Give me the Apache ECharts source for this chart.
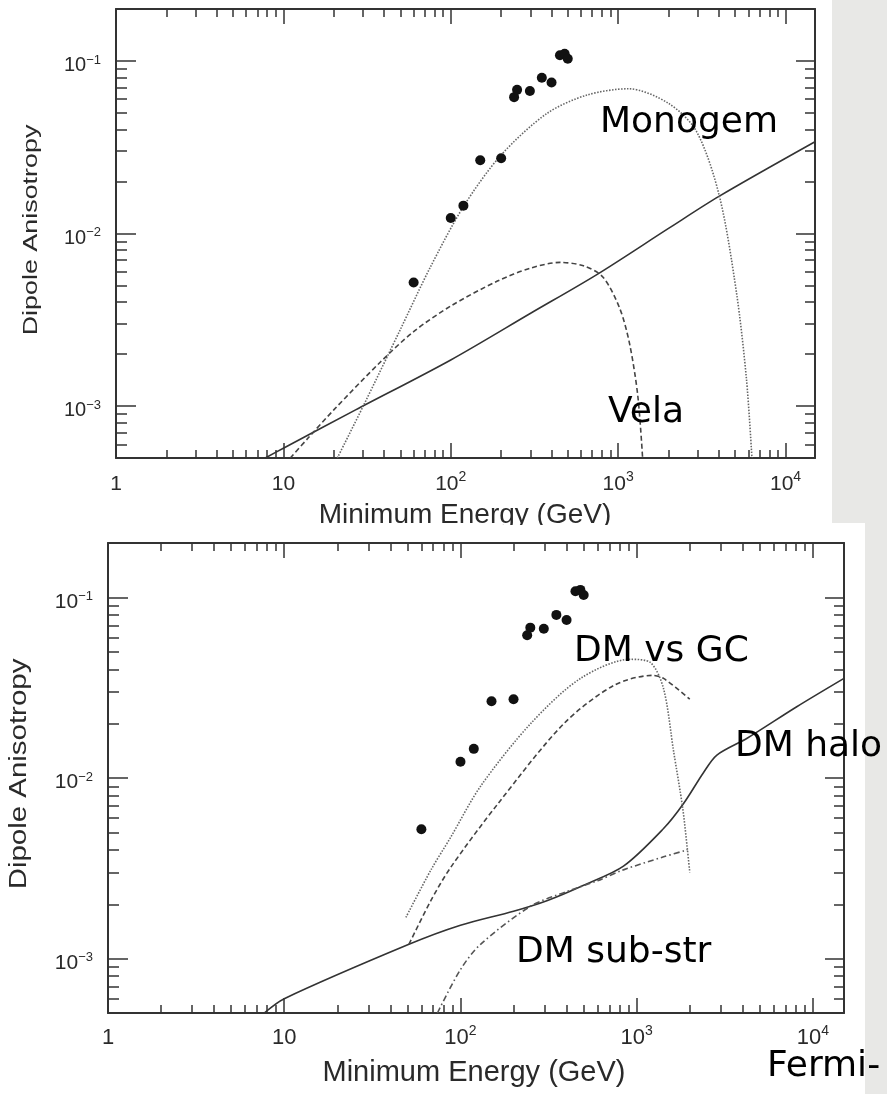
<!DOCTYPE html>
<html>
<head>
<meta charset="utf-8">
<title>Dipole anisotropy vs minimum energy</title>
<script src="https://cdn.jsdelivr.net/npm/echarts@6/dist/echarts.min.js"></script>
<style>
  html, body { margin: 0; padding: 0; background: #fff; }
  #chart { width: 887px; height: 1094px; }
</style>
</head>
<body>
<div id="chart"></div>
<script>
// measured dipole anisotropy (same points in both panels)
const dataEnergy = [60, 100, 119, 150, 200, 239, 249, 297, 350, 400, 449, 479, 500];
const dataAniso = [0.0052, 0.0123, 0.0145, 0.0266, 0.0273, 0.0617, 0.068, 0.067, 0.080, 0.075, 0.108, 0.110, 0.103];

// upper panel: pulsars
const bgEnergy = [7.8, 10, 27, 100, 300, 750, 2000, 4000, 15000];
const bgAniso = [0.0005, 0.00057, 0.00095, 0.00185, 0.00345, 0.0058, 0.0107, 0.0164, 0.034];
const monogemEnergy = [21, 30, 50, 75, 120, 200, 375, 650, 1150, 2000, 2940, 4030, 5090, 5840, 6300];
const monogemAniso = [0.0005, 0.001, 0.00278, 0.0063, 0.0145, 0.0285, 0.0496, 0.0634, 0.069, 0.0568, 0.039, 0.0164, 0.00456, 0.00144, 0.0005];
const velaEnergy = [11, 14, 20, 38, 60, 100, 190, 300, 450, 620, 810, 1020, 1170, 1310, 1400];
const velaAniso = [0.0005, 0.00065, 0.00095, 0.0018, 0.0027, 0.0038, 0.0053, 0.0063, 0.0068, 0.0065, 0.0056, 0.0037, 0.0023, 0.00115, 0.0005];

// lower panel: dark matter
const haloEnergy = [7.7, 10, 51, 100, 200, 312, 500, 841, 1420, 1840, 2390, 2850, 4230, 8090, 15000];
const haloAniso = [0.0005, 0.0006, 0.0012, 0.00153, 0.00183, 0.0021, 0.00255, 0.00325, 0.00525, 0.0072, 0.0107, 0.0134, 0.0166, 0.0248, 0.0356];
const gcDotEnergy = [49, 68, 88, 130, 250, 480, 920, 1195, 1420, 1620, 1820, 1940, 2000];
const gcDotAniso = [0.00169, 0.0031, 0.0047, 0.009, 0.02, 0.0356, 0.0454, 0.0436, 0.0312, 0.014, 0.0069, 0.004, 0.003];
const gcDashEnergy = [51, 68, 88, 163, 386, 740, 1230, 1420, 2000];
const gcDashAniso = [0.0012, 0.0021, 0.0032, 0.0072, 0.02, 0.0325, 0.037, 0.0356, 0.0273];
const subEnergy = [74, 100, 130, 250, 400, 600, 840, 1420, 1940];
const subAniso = [0.0005, 0.00087, 0.0012, 0.00195, 0.00235, 0.0027, 0.0031, 0.00366, 0.004];

// axes
const xMajorTicks = [1, 10, 100, 1000, 10000];
const xTickLabels = ['1', '10', '10{s|2}', '10{s|3}', '10{s|4}'];
const xMinorTicks = [2, 3, 4, 5, 6, 7, 8, 9, 20, 30, 40, 50, 60, 70, 80, 90,
    200, 300, 400, 500, 600, 700, 800, 900, 2000, 3000, 4000, 5000, 6000, 7000, 8000, 9000];
const yMajorTicks = [0.001, 0.01, 0.1];
const yTickLabels = ['10{s|\u22123}', '10{s|\u22122}', '10{s|\u22121}'];
const yMinorTicks = [0.0006, 0.0007, 0.0008, 0.0009, 0.002, 0.003, 0.004, 0.005, 0.006, 0.007, 0.008, 0.009,
    0.02, 0.03, 0.04, 0.05, 0.06, 0.07, 0.08, 0.09];

const xMin = 1, xMax = 15000, yMin = 0.0005, yMax = 0.2;

const ink = '#333';
const labelFont = '"Liberation Sans", Arial, Helvetica, sans-serif';
const annoFont = '"DejaVu Sans", sans-serif';

function zip(xs, ys) {
    return xs.map((x, i) => [x, ys[i]]);
}

function pickLabel(ticks, labels) {
    return function (value) {
        const i = ticks.findIndex(t => Math.abs(t - value) / t < 1e-6);
        return i < 0 ? '' : labels[i];
    };
}

function xAxes(gridIndex, fontSize, margin) {
    const base = {type: 'log', logBase: 10, gridIndex: gridIndex, min: xMin, max: xMax, splitLine: {show: false}};
    return [
        Object.assign({}, base, {
            position: 'bottom',
            axisLine: {show: true, lineStyle: {color: ink, width: 2}},
            axisTick: {show: true, inside: true, length: 15, customValues: xMajorTicks, lineStyle: {color: ink, width: 1.5}},
            axisLabel: {
                show: true, customValues: xMajorTicks, margin: margin,
                formatter: pickLabel(xMajorTicks, xTickLabels),
                color: '#2a2a2a', fontFamily: labelFont, fontSize: fontSize, lineHeight: 28,
                rich: {s: {fontSize: 14, lineHeight: 14, verticalAlign: 'top', color: '#2a2a2a', fontFamily: labelFont}}
            }
        }),
        Object.assign({}, base, {
            position: 'bottom',
            axisLine: {show: false},
            axisTick: {show: true, inside: true, length: 8, customValues: xMinorTicks, lineStyle: {color: ink, width: 1.5}},
            axisLabel: {show: false}
        }),
        Object.assign({}, base, {
            position: 'top',
            axisLine: {show: true, lineStyle: {color: ink, width: 2}},
            axisTick: {show: true, inside: true, length: 15, customValues: xMajorTicks, lineStyle: {color: ink, width: 1.5}},
            axisLabel: {show: false}
        }),
        Object.assign({}, base, {
            position: 'top',
            axisLine: {show: false},
            axisTick: {show: true, inside: true, length: 8, customValues: xMinorTicks, lineStyle: {color: ink, width: 1.5}},
            axisLabel: {show: false}
        })
    ];
}

function yAxes(gridIndex, fontSize) {
    const base = {type: 'log', logBase: 10, gridIndex: gridIndex, min: yMin, max: yMax, splitLine: {show: false}};
    return [
        Object.assign({}, base, {
            position: 'left',
            axisLine: {show: true, lineStyle: {color: ink, width: 2}},
            axisTick: {show: true, inside: true, length: 20, customValues: yMajorTicks, lineStyle: {color: ink, width: 1.5}},
            axisLabel: {
                show: true, customValues: yMajorTicks, margin: 15, padding: [9, 0, 0, 0],
                formatter: pickLabel(yMajorTicks, yTickLabels),
                color: '#2a2a2a', fontFamily: labelFont, fontSize: fontSize, lineHeight: 24,
                rich: {s: {fontSize: 13, lineHeight: 13, verticalAlign: 'top', color: '#2a2a2a', fontFamily: labelFont}}
            }
        }),
        Object.assign({}, base, {
            position: 'left',
            axisLine: {show: false},
            axisTick: {show: true, inside: true, length: 11, customValues: yMinorTicks, lineStyle: {color: ink, width: 1.5}},
            axisLabel: {show: false}
        }),
        Object.assign({}, base, {
            position: 'right',
            axisLine: {show: true, lineStyle: {color: ink, width: 2}},
            axisTick: {show: true, inside: true, length: 19, customValues: yMajorTicks, lineStyle: {color: ink, width: 1.5}},
            axisLabel: {show: false}
        }),
        Object.assign({}, base, {
            position: 'right',
            axisLine: {show: false},
            axisTick: {show: true, inside: true, length: 10, customValues: yMinorTicks, lineStyle: {color: ink, width: 1.5}},
            axisLabel: {show: false}
        })
    ];
}

function curve(name, xs, ys, axisIndex, type, color) {
    return {
        name: name, type: 'line', xAxisIndex: axisIndex, yAxisIndex: axisIndex,
        data: zip(xs, ys), showSymbol: false, smooth: 0.3, clip: true,
        lineStyle: {color: color, width: 1.6, type: type}
    };
}

function points(axisIndex) {
    return {
        name: 'data', type: 'scatter', xAxisIndex: axisIndex, yAxisIndex: axisIndex,
        data: zip(dataEnergy, dataAniso), symbol: 'circle', symbolSize: 10,
        itemStyle: {color: '#111', opacity: 1}, z: 5
    };
}

function anno(text, x, y) {
    return {
        type: 'text', x: x, y: y, z: 20,
        style: {text: text, fontSize: 36, fontFamily: annoFont, fill: '#000', align: 'left', verticalAlign: 'middle'}
    };
}

const chart = echarts.init(document.getElementById('chart'));

chart.setOption({
    backgroundColor: '#fff',
    animation: false,
    grid: [
        {left: 116, top: 9, width: 699, height: 449},
        {left: 108, top: 543, width: 736, height: 470}
    ],
    xAxis: xAxes(0, 21, 12).concat(xAxes(1, 22, 11)),
    yAxis: yAxes(0, 20).concat(yAxes(1, 21)),
    series: [
        curve('background', bgEnergy, bgAniso, 0, 'solid', '#333'),
        curve('Monogem', monogemEnergy, monogemAniso, 0, [1.5, 1.5], '#666'),
        curve('Vela', velaEnergy, velaAniso, 0, [5, 3], '#444'),
        points(0),
        curve('DM halo', haloEnergy, haloAniso, 4, 'solid', '#333'),
        curve('DM vs GC (dotted)', gcDotEnergy, gcDotAniso, 4, [1.5, 1.5], '#666'),
        curve('DM vs GC (dashed)', gcDashEnergy, gcDashAniso, 4, [5, 3], '#444'),
        curve('DM sub-str', subEnergy, subAniso, 4, [6, 3, 1.5, 3], '#555'),
        points(4)
    ],
    graphic: [
        // textured margin on the right
        {type: 'rect', z: -1, silent: true, shape: {x: 832, y: 0, width: 55, height: 523}, style: {fill: '#e8e8e6'}},
        {type: 'rect', z: -1, silent: true, shape: {x: 865, y: 523, width: 22, height: 571}, style: {fill: '#e8e8e6'}},
        // axis titles
        {type: 'text', x: 465, y: 515, z: 15,
            style: {text: 'Minimum Energy (GeV)', fontSize: 28, fontFamily: labelFont, fill: '#2a2a2a', align: 'center', verticalAlign: 'middle'}},
        {type: 'text', x: 474, y: 1073, z: 15,
            style: {text: 'Minimum Energy (GeV)', fontSize: 29, fontFamily: labelFont, fill: '#2a2a2a', align: 'center', verticalAlign: 'middle'}},
        {type: 'text', x: 31, y: 230, z: 15, rotation: Math.PI / 2, scaleX: 1.28,
            style: {text: 'Dipole Anisotropy', fontSize: 21, fontFamily: labelFont, fill: '#2a2a2a', align: 'center', verticalAlign: 'middle'}},
        {type: 'text', x: 20, y: 774, z: 15, rotation: Math.PI / 2, scaleX: 1.28,
            style: {text: 'Dipole Anisotropy', fontSize: 23, fontFamily: labelFont, fill: '#2a2a2a', align: 'center', verticalAlign: 'middle'}},
        // the upper figure is cropped through its axis title
        {type: 'rect', z: 30, silent: true, shape: {x: 0, y: 525, width: 865, height: 16}, style: {fill: '#fff'}},
        anno('Monogem', 600, 123),
        anno('Vela', 608, 413),
        anno('DM vs GC', 574, 652),
        anno('DM halo', 735, 747),
        anno('DM sub-str', 516, 953),
        anno('Fermi-', 767, 1067)
    ]
});
</script>
</body>
</html>
